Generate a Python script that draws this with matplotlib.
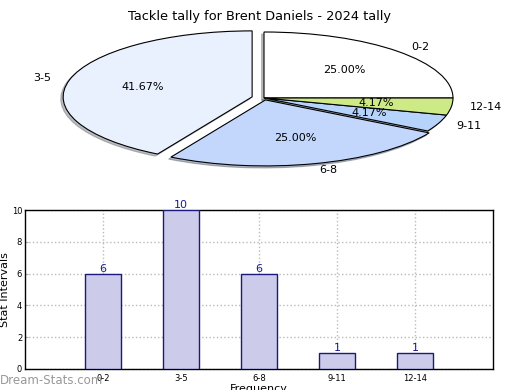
import matplotlib
matplotlib.use("Agg")
import matplotlib.pyplot as plt

categories = ["0-2", "3-5", "6-8", "9-11", "12-14"]
counts = [6, 10, 6, 1, 1]
pie_colors = ["#ffffff", "#eaf1fe", "#c3d7fd", "#b6d3fb", "#cdea87"]
explode = [0.0, 0.065, 0.03, 0.0, 0.0]
title = "Tackle tally for Brent Daniels - 2024 tally"

fig = plt.figure(figsize=(5.2, 3.9), dpi=100)
fig.text(0.5, 0.975, title, ha="center", va="top", fontsize=9.3)

# Pie axes (squashed to an ellipse)
RX, RY = 189.0, 66.0
axp = fig.add_axes([0, 1 - 180/390, 1, 160/390])
wedges, texts, autotexts = axp.pie(
    counts, labels=categories, colors=pie_colors, explode=explode,
    autopct="%.2f%%", pctdistance=0.6, labeldistance=1.1, startangle=0,
    counterclock=True, shadow=dict(ox=-0.009, oy=-0.022, shade=0.5),
    wedgeprops=dict(edgecolor="black", linewidth=0.8),
    textprops=dict(fontsize=8))
axp.set_aspect("auto")
cxp = 264.0
axp.set_xlim(-cxp/RX, (520 - cxp)/RX)
axp.set_ylim(-82/RY, 78/RY)
axp.axis("off")

# Bar axes
axb = fig.add_axes([25/520, (390-369)/390, 468/520, 159/390])
x = list(range(1, len(categories) + 1))
bars = axb.bar(x, counts, width=0.46, color="#ccccea", edgecolor="#1a1a7a", linewidth=1, zorder=3)
for xi, v in zip(x, counts):
    axb.text(xi, v, str(v), ha="center", va="bottom", color="#1a1a9a", fontsize=8, zorder=4)
axb.set_xlim(0, 6)
axb.set_ylim(0, 10)
axb.set_xticks(x)
axb.set_xticklabels(categories, fontsize=6)
axb.set_yticks([0, 2, 4, 6, 8, 10])
axb.tick_params(axis="y", labelsize=6, length=2, direction="in", color="#aaaaaa", pad=2)
axb.tick_params(axis="x", length=2, direction="in", color="#aaaaaa")
axb.grid(True, linestyle=":", color="#bbbbbb", linewidth=1, zorder=0)
axb.set_xlabel("Frequency", fontsize=8, labelpad=1)
for s in axb.spines.values():
    s.set_linewidth(1)

fig.text(5/520, 1 - 290/390, "Stat Intervals", rotation=90, ha="center", va="center", fontsize=8)

fig.text(0.0, 1 - 381/390, "Dream-Stats.com", ha="left", va="center", fontsize=8.5,
         color="#999999")

fig.savefig("out.png", dpi=100)
